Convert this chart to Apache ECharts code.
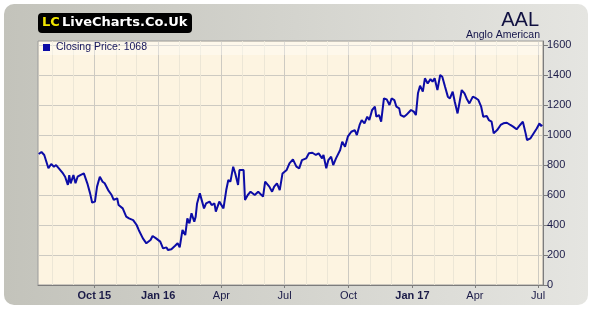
<!DOCTYPE html>
<html>
<head>
<meta charset="utf-8">
<script src="https://cdn.jsdelivr.net/npm/echarts@6/dist/echarts.min.js"></script>
<style>
html,body{margin:0;padding:0;background:#ffffff;}
#chart{width:599px;height:318px;}
</style>
</head>
<body>
<div id="chart"></div>
<script>
// ---- Data ----
const dates = [
'2015-07-13','2015-07-17','2015-07-21','2015-07-27','2015-07-31','2015-08-04','2015-08-07','2015-08-11','2015-08-17','2015-08-20',
'2015-08-24','2015-08-26','2015-08-28','2015-09-01','2015-09-04','2015-09-07','2015-09-11','2015-09-16','2015-09-18','2015-09-21',
'2015-09-25','2015-09-28','2015-10-02','2015-10-05','2015-10-09','2015-10-13','2015-10-16','2015-10-21','2015-10-26','2015-10-29',
'2015-11-03','2015-11-05','2015-11-11','2015-11-16','2015-11-20','2015-11-26','2015-12-01','2015-12-04','2015-12-10','2015-12-15',
'2015-12-21','2015-12-24','2015-12-29','2016-01-04','2016-01-08','2016-01-13','2016-01-15','2016-01-20','2016-01-25','2016-01-29',
'2016-02-01','2016-02-05','2016-02-09','2016-02-12','2016-02-15','2016-02-18','2016-02-22','2016-02-24','2016-02-26','2016-03-01',
'2016-03-03','2016-03-07','2016-03-10','2016-03-15','2016-03-18','2016-03-22','2016-03-24','2016-03-29','2016-04-04','2016-04-08',
'2016-04-11','2016-04-14','2016-04-18','2016-04-21','2016-04-25','2016-04-27','2016-05-03','2016-05-05','2016-05-09','2016-05-13',
'2016-05-19','2016-05-24','2016-05-31','2016-06-03','2016-06-09','2016-06-13','2016-06-16','2016-06-20','2016-06-24','2016-06-28',
'2016-07-04','2016-07-08','2016-07-13','2016-07-18','2016-07-22','2016-07-26','2016-08-01','2016-08-05','2016-08-10','2016-08-15',
'2016-08-19','2016-08-24','2016-08-26','2016-08-30','2016-09-02','2016-09-06','2016-09-09','2016-09-13','2016-09-19','2016-09-22',
'2016-09-26','2016-09-30','2016-10-05','2016-10-10','2016-10-13','2016-10-17','2016-10-20','2016-10-24','2016-10-28','2016-10-31',
'2016-11-04','2016-11-08','2016-11-10','2016-11-14','2016-11-17','2016-11-21','2016-11-25','2016-11-29','2016-12-02','2016-12-06',
'2016-12-09','2016-12-13','2016-12-15','2016-12-20','2016-12-23','2016-12-30','2017-01-03','2017-01-06','2017-01-09','2017-01-12',
'2017-01-16','2017-01-19','2017-01-23','2017-01-27','2017-01-30','2017-02-02','2017-02-06','2017-02-10','2017-02-13','2017-02-17',
'2017-02-21','2017-02-24','2017-02-28','2017-03-03','2017-03-07','2017-03-10','2017-03-13','2017-03-17','2017-03-20','2017-03-22',
'2017-03-24','2017-03-29','2017-04-03','2017-04-06','2017-04-10','2017-04-13','2017-04-18','2017-04-21','2017-04-25','2017-04-28',
'2017-05-03','2017-05-08','2017-05-12','2017-05-17','2017-05-22','2017-05-26','2017-05-31','2017-06-05','2017-06-09','2017-06-13',
'2017-06-15','2017-06-20','2017-06-26','2017-06-29','2017-07-03','2017-07-05','2017-07-07'
];
const closes = [
873,887,867,778,807,789,800,778,744,722,
667,733,678,733,678,722,733,744,733,678,
611,549,556,656,722,689,678,633,600,567,
578,533,511,456,444,433,400,367,311,278,
300,327,311,289,244,251,233,238,260,278,
251,367,333,444,411,478,422,456,544,611,
622,511,544,556,533,544,489,556,511,633,
700,689,789,744,667,767,767,567,600,622,
600,622,589,689,656,622,656,678,633,744,
767,811,838,789,778,833,844,878,882,867,
878,844,867,778,833,856,800,844,900,956,
922,989,1022,1033,1000,1067,1100,1078,1122,1100,
1167,1189,1122,1133,1089,1244,1238,1200,1244,1233,
1189,1178,1133,1122,1133,1167,1156,1133,1278,1329,
1289,1378,1344,1373,1356,1378,1300,1400,1389,1322,
1256,1244,1289,1222,1144,1222,1300,1278,1244,1256,
1211,1256,1244,1233,1189,1122,1127,1100,1089,1011,
1033,1067,1078,1082,1067,1056,1038,1067,1089,1011,
967,978,1022,1044,1078,1060,1068
];
const seriesName = 'Closing Price';
const ticker = 'AAL';
const companyName = 'Anglo American';
const brandMark = 'LC';
const brandName = 'LiveCharts.Co.Uk';
const xStart = '2015-07-12';
const xEnd = '2017-07-08';
const quarterTicks = ['2015-10-01','2016-01-01','2016-04-01','2016-07-01','2016-10-01','2017-01-01','2017-04-01','2017-07-01'];
const quarterLabels = ['Oct 15','Jan 16','Apr','Jul','Oct','Jan 17','Apr','Jul'];
const monthTicks = ['2015-08-01','2015-09-01','2015-11-01','2015-12-01','2016-02-01','2016-03-01','2016-05-01','2016-06-01',
  '2016-08-01','2016-09-01','2016-11-01','2016-12-01','2017-02-01','2017-03-01','2017-05-01','2017-06-01'];
const yTicks = [0,200,400,600,800,1000,1200,1400,1600];
const yMin = 0, yMax = 1627;

// ---- Chart ----
function ts(s){const p=s.split('-').map(Number);return Date.UTC(p[0],p[1]-1,p[2]);}
const qTs = quarterTicks.map(ts);
const mTs = monthTicks.map(ts);
const lineData = dates.map((d,i)=>[ts(d), closes[i]]);
const lastValue = closes[closes.length-1];

const FONT = '"Liberation Sans", Arial, sans-serif';
const TXT = '#1b1b48';
const AXIS = '#7c7c7c';
const GRID_MAJOR = '#cdcac2';
const GRID_MINOR = '#ece6d6';

const chart = echarts.init(document.getElementById('chart'), null, {renderer:'canvas'});
chart.setOption({
  animation:false,
  backgroundColor:'#ffffff',
  textStyle:{fontFamily:FONT},
  grid:{left:38, right:56, top:41, bottom:33, show:true, backgroundColor:'#fdf4e1', borderColor:'#9a9a9a', borderWidth:1},
  legend:{
    show:true, left:43, top:42, padding:0, icon:'rect', itemWidth:7, itemHeight:7, itemGap:5,
    textStyle:{fontFamily:FONT, fontSize:10.5, color:'#14145a', padding:[0,0,0,1]},
    formatter: n => n + ': ' + lastValue,
    selectedMode:false
  },
  xAxis:[
    {
      type:'value', min:ts(xStart), max:ts(xEnd), gridIndex:0, scale:true,
      axisLine:{show:true, onZero:false, lineStyle:{color:AXIS}},
      axisTick:{show:true, customValues:qTs, length:3, lineStyle:{color:AXIS}},
      axisLabel:{
        show:true, customValues:qTs, margin:5, fontSize:11, color:TXT, fontFamily:FONT,
        hideOverlap:false,
        formatter:(v)=>{
          let i = -1;
          for (let k=0;k<qTs.length;k++){ if (Math.abs(qTs[k]-v) < 3600000) { i = k; break; } }
          if (i < 0) return '';
          const t = quarterLabels[i];
          return t.indexOf(' ') >= 0 ? '{b|' + t + '}' : t;
        },
        rich:{b:{fontWeight:'bold', fontSize:11, color:TXT, fontFamily:FONT}}
      },
      splitLine:{show:true, lineStyle:{color:GRID_MAJOR, width:1}}
    },
    {
      type:'value', min:ts(xStart), max:ts(xEnd), gridIndex:0, position:'bottom', scale:true,
      axisLine:{show:false, onZero:false},
      axisTick:{show:false, customValues:mTs},
      axisLabel:{show:false, customValues:mTs},
      splitLine:{show:true, lineStyle:{color:GRID_MINOR, width:1}}
    }
  ],
  yAxis:{
    type:'value', position:'right', min:yMin, max:yMax,
    axisLine:{show:true, lineStyle:{color:AXIS}},
    axisTick:{show:true, customValues:yTicks, length:5, lineStyle:{color:AXIS}},
    axisLabel:{show:true, customValues:yTicks, margin:4, fontSize:11, color:TXT, fontFamily:FONT,
      formatter:(v)=> (v % 200 === 0 ? String(v) : '')},
    splitLine:{show:true, lineStyle:{color:GRID_MAJOR, width:1}}
  },
  series:[{
    name:seriesName, type:'line', xAxisIndex:0, data:lineData,
    showSymbol:false, symbol:'none', z:5,
    lineStyle:{color:'#0c0ca6', width:2},
    itemStyle:{color:'#0c0ca6'}
  }],
  graphic:[
    {type:'rect', z:-100, silent:true, shape:{x:4, y:4, width:584, height:301, r:10},
      style:{fill:new echarts.graphic.LinearGradient(0,0,1,0,[{offset:0,color:'#c3c3bb'},{offset:1,color:'#e5e5e1'}])}},
    {type:'rect', z:3, silent:true, shape:{x:39, y:42, width:503, height:13},
      style:{fill:'rgba(255,255,255,0.35)'}},
    {type:'rect', z:10, silent:true, shape:{x:38, y:13, width:154, height:20, r:4}, style:{fill:'#000000'}},
    {type:'text', z:11, silent:true, x:42, y:23, style:{text:brandMark, fill:'#f2e600', font:'bold 13px "DejaVu Sans", sans-serif', verticalAlign:'middle'}},
    {type:'text', z:11, silent:true, x:62, y:23, style:{text:brandName, fill:'#ffffff', font:'bold 13px "DejaVu Sans", sans-serif', verticalAlign:'middle'}},
    {type:'text', z:11, silent:true, x:539, y:20, style:{text:ticker, fill:'#101040', font:'20px "Liberation Sans", Arial, sans-serif', align:'right', verticalAlign:'middle'}},
    {type:'text', z:11, silent:true, x:540, y:35, style:{text:companyName, fill:'#14144a', font:'10.5px "Liberation Sans", Arial, sans-serif', align:'right', verticalAlign:'middle'}}
  ]
});
</script>
</body>
</html>
